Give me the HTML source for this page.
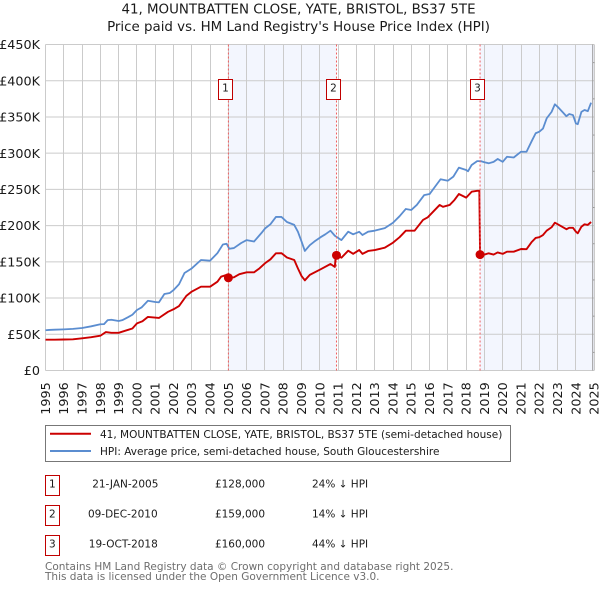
<!DOCTYPE html>
<html lang="en">
<head>
<meta charset="utf-8">
<title>41, Mountbatten Close price chart</title>
<style>
html,body{margin:0;padding:0;background:#fff;}
svg{display:block;}
text{font-family:"DejaVu Sans",sans-serif;fill:#1a1a1a;}
</style>
</head>
<body>
<svg id="chart" xmlns="http://www.w3.org/2000/svg" width="600" height="590" viewBox="0 0 600 590">
  <g id="bands"></g>
  <g id="grid"></g>
  <g id="lines"></g>
  <g id="yticks"></g>
  <g id="xticks"></g>
  <g id="sales"></g>

  <text x="298.5" y="13.5" font-size="13.4" text-anchor="middle">41, MOUNTBATTEN CLOSE, YATE, BRISTOL, BS37 5TE</text>
  <text x="298.5" y="31" font-size="13.4" text-anchor="middle">Price paid vs. HM Land Registry's House Price Index (HPI)</text>

  <g>
    <rect x="45.5" y="425.5" width="465" height="36" fill="#fff" stroke="#777" stroke-width="1"/>
    <line x1="50" y1="433.8" x2="91" y2="433.8" stroke="#cc0000" stroke-width="2"/>
    <text x="100" y="438" font-size="10.5">41, MOUNTBATTEN CLOSE, YATE, BRISTOL, BS37 5TE (semi-detached house)</text>
    <line x1="50" y1="451" x2="91" y2="451" stroke="#5b8dd0" stroke-width="2"/>
    <text x="100" y="455" font-size="10.5">HPI: Average price, semi-detached house, South Gloucestershire</text>
  </g>

  <g font-size="10.5">
    <rect x="45.5" y="475.5" width="14" height="20" fill="#fff" stroke="#c00000"/>
    <text x="52.3" y="487.3" text-anchor="middle">1</text>
    <text x="125.3" y="487.3" text-anchor="middle">21-JAN-2005</text>
    <text x="240" y="487.3" text-anchor="middle">£128,000</text>
    <text x="312" y="487.3">24% ↓ HPI</text>

    <rect x="45.5" y="505.5" width="14" height="20" fill="#fff" stroke="#c00000"/>
    <text x="52.3" y="517.3" text-anchor="middle">2</text>
    <text x="122.8" y="517.3" text-anchor="middle">09-DEC-2010</text>
    <text x="240" y="517.3" text-anchor="middle">£159,000</text>
    <text x="312" y="517.3">14% ↓ HPI</text>

    <rect x="45.5" y="535.5" width="14" height="20" fill="#fff" stroke="#c00000"/>
    <text x="52.3" y="547.3" text-anchor="middle">3</text>
    <text x="123.3" y="547.3" text-anchor="middle">19-OCT-2018</text>
    <text x="240" y="547.3" text-anchor="middle">£160,000</text>
    <text x="312" y="547.3">44% ↓ HPI</text>
  </g>

  <text x="45" y="570" font-size="10.5" style="fill:#6e6e6e">Contains HM Land Registry data © Crown copyright and database right 2025.</text>
  <text x="45" y="580" font-size="10.5" style="fill:#6e6e6e">This data is licensed under the Open Government Licence v3.0.</text>
</svg>
<script>
const yearTicks = [1995,1996,1997,1998,1999,2000,2001,2002,2003,2004,2005,2006,2007,2008,2009,2010,2011,2012,2013,2014,2015,2016,2017,2018,2019,2020,2021,2022,2023,2024,2025];
const valueTicks = [0,50,100,150,200,250,300,350,400,450];
const valueTickLabels = ['£0','£50K','£100K','£150K','£200K','£250K','£300K','£350K','£400K','£450K'];
const minorValueTicks = [25,75,125,175,225,275,325,375,425];

const hpiYears = [1995,1995.2,1995.5,1996,1996.5,1997,1997.5,1998,1998.2,1998.4,1998.6,1999,1999.2,1999.5,1999.75,2000,2000.25,2000.6,2001,2001.2,2001.5,2001.8,2002,2002.3,2002.6,2003,2003.5,2004,2004.4,2004.7,2004.9,2005.05,2005.3,2005.7,2006,2006.4,2006.8,2007,2007.3,2007.6,2007.9,2008.2,2008.6,2008.8,2009,2009.18,2009.45,2009.7,2010.04,2010.3,2010.58,2010.82,2011.18,2011.55,2011.82,2012.15,2012.33,2012.64,2013,2013.55,2014,2014.36,2014.7,2015,2015.3,2015.7,2016,2016.3,2016.6,2017,2017.3,2017.6,2018,2018.1,2018.3,2018.6,2018.8,2019,2019.23,2019.5,2019.72,2020,2020.23,2020.6,2021,2021.3,2021.57,2021.8,2022,2022.2,2022.4,2022.67,2022.85,2023,2023.3,2023.48,2023.63,2023.84,2024,2024.1,2024.3,2024.47,2024.65,2024.83];
const hpiValues = [55.5,56,56.3,56.8,57.5,58.7,61,63.8,64,69.5,70,68.3,69.5,73.4,77,83.5,87,96.3,94.6,94,105.6,107,111,119,134.6,141,152.5,151.6,162,174,175,168,169,176,180,178,189.6,196,202,212,212,205,201,191.6,178,165,173,178,184,188,193,186,180,191.6,188,191.5,187,191.6,193,196.6,204,213,223,221.6,228.5,242,243.6,253.8,264,262,267.6,280,276.8,275,283.7,289,289,287.4,286,288,292,288,295,294,302,302,316,327.5,329.7,334,348,357,367.5,364,356,351,354,352.6,341,340,357,359.6,358,369.7];

const paidYears = [1995,1995.5,1996,1996.5,1997,1997.5,1998,1998.3,1998.6,1999,1999.5,1999.75,2000,2000.3,2000.6,2001.2,2001.7,2002,2002.3,2002.7,2003,2003.5,2004,2004.4,2004.6,2004.9,2005,2005.3,2005.6,2006,2006.4,2006.7,2007,2007.3,2007.6,2007.9,2008.2,2008.6,2008.8,2009,2009.18,2009.45,2010.04,2010.58,2010.82,2010.87,2010.91,2011.18,2011.55,2011.82,2012.15,2012.33,2012.64,2013,2013.55,2014,2014.36,2014.7,2015.18,2015.64,2015.9,2016.55,2016.73,2017.1,2017.36,2017.6,2018,2018.3,2018.6,2018.72,2018.76,2019,2019.23,2019.5,2019.72,2020,2020.23,2020.6,2021,2021.3,2021.57,2021.8,2022,2022.2,2022.4,2022.67,2022.85,2023,2023.3,2023.48,2023.63,2023.84,2024,2024.1,2024.3,2024.47,2024.65,2024.83];
const paidValues = [42.5,42.5,42.8,43,44.4,46,48,53,52,52,56,58,65,68,74,72.5,81,84.5,89,103,109,115.7,115.7,122.6,129.5,132,128,128.6,133,135.5,135.5,141,148,153.5,161.8,162,156,152.5,141,130.4,124.5,132,139.7,147,143,159,159,155.7,165.4,161,166.3,161,165,166.3,169.5,176.5,184,193,193,207.8,211.5,228.5,226,228.5,235.4,243.6,238.6,246.8,248,248,160,160,161.8,160,163,161,164,164,167.7,167.5,177,183,184,187,193,197.7,204,202,197.7,195,197,197,191.6,189.4,198.5,201.8,201,205];

const saleYears = [2005,2010.91,2018.76];
const salePrices = [128,159,160];
const saleNumbers = ['1','2','3'];

const SVGNS = 'http://www.w3.org/2000/svg';
const X0 = 45.5, Y0 = 370.5, YEARW = 18.29, VALH = 326 / 450;
function xAt(year){ return X0 + (year - 1995) * YEARW; }
function yAt(v){ return Y0 - v * VALH; }
function pathFor(xs, vs){
  return xs.map((yr, i) => (i ? 'L' : 'M') + xAt(yr).toFixed(2) + ' ' + yAt(vs[i]).toFixed(2)).join(' ');
}
function mk(parent, tag, attrs, txt){
  const el = document.createElementNS(SVGNS, tag);
  for (const k in attrs) el.setAttribute(k, attrs[k]);
  if (txt !== undefined) el.textContent = txt;
  document.getElementById(parent).appendChild(el);
  return el;
}
const right = xAt(2025);
const bandA = mk('bands', 'rect', {x: xAt(saleYears[0]), y: yAt(450), width: xAt(saleYears[1]) - xAt(saleYears[0]), height: Y0 - yAt(450), fill: '#f3f6fe'});


const bandB = mk('bands', 'rect', {x: xAt(saleYears[2]), y: yAt(450), width: right - xAt(saleYears[2]), height: Y0 - yAt(450), fill: '#f3f6fe'});



valueTicks.forEach((v, i) => {
  const g = mk('grid', 'line', {x1: X0, x2: right, y1: yAt(v), y2: yAt(v), stroke: '#cbcbcb', 'stroke-width': 1});
  
  
  const t = mk('yticks', 'text', {x: 40, y: yAt(v) + 4.6, 'font-size': 12.75, 'text-anchor': 'end'}, valueTickLabels[i]);
  
  
});
yearTicks.forEach(yr => {
  const px = Math.round(xAt(yr) - 0.5) + 0.5;
  const g = mk('grid', 'line', {x1: px, x2: px, y1: yAt(450), y2: Y0, stroke: '#cbcbcb', 'stroke-width': 1});
  
  
  const t = mk('xticks', 'text', {transform: 'translate(' + (xAt(yr) + 4.4) + ',414.7) rotate(-90)', 'font-size': 12.75}, String(yr));
  
  
});
const endLine = mk('grid', 'line', {x1: 592.7, x2: 592.7, y1: yAt(450), y2: Y0, stroke: '#9a9a9a', 'stroke-width': 1});


minorValueTicks.forEach(v => {
  const m = mk('grid', 'line', {x1: 592.7, x2: 594.5, y1: yAt(v), y2: yAt(v), stroke: '#9a9a9a', 'stroke-width': 1});
  
  
});

const hpiLine = mk('lines', 'path', {d: pathFor(hpiYears, hpiValues), fill: 'none', stroke: '#5b8dd0', 'stroke-width': 1.8, 'stroke-linejoin': 'round'});


const paidLine = mk('lines', 'path', {d: pathFor(paidYears, paidValues), fill: 'none', stroke: '#cc0000', 'stroke-width': 1.9, 'stroke-linejoin': 'round'});



saleYears.forEach((yr, i) => {
  const cx = xAt(yr);
  const vline = mk('sales', 'line', {x1: cx, x2: cx, y1: yAt(450), y2: Y0, stroke: '#f06060', 'stroke-width': 1, 'stroke-dasharray': '2 2'});
  
  
  const dot = mk('sales', 'circle', {cx: cx, cy: yAt(salePrices[i]), r: 4.5, fill: '#cc0000'});
  
  
  const box = mk('sales', 'rect', {x: Math.floor(cx - 10) + 0.5, y: 79.5, width: 14, height: 20, fill: '#fff', stroke: '#c00000', 'stroke-width': 1});
  
  
  const num = mk('sales', 'text', {x: Math.floor(cx - 10) + 7.5, y: 91.7, 'font-size': 10.5, 'text-anchor': 'middle'}, saleNumbers[i]);
  
  
});
</script>
</body>
</html>
